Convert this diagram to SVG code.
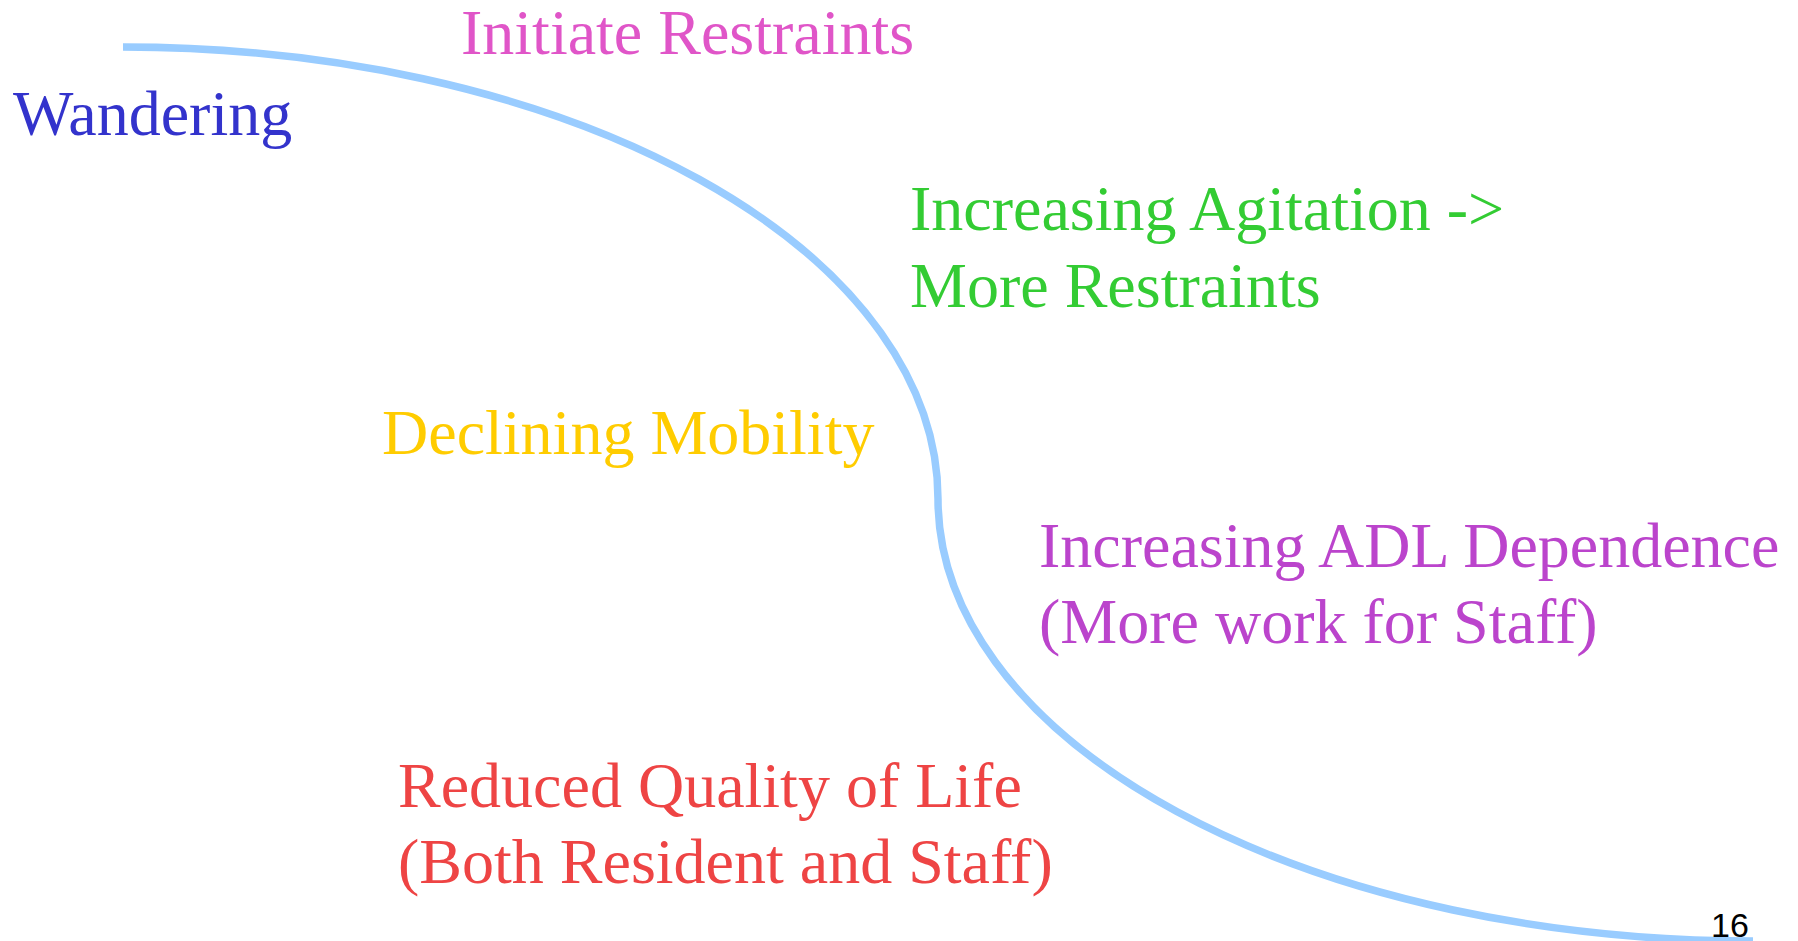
<svg xmlns="http://www.w3.org/2000/svg" width="1798" height="941" viewBox="0 0 1798 941">
  <style>
    .lbl { font-family: "Liberation Serif", "Times New Roman", serif; font-size: 64px; }
    .curve { fill: none; stroke: #99CCFF; stroke-width: 7.5; }
  </style>
  <rect width="1798" height="941" fill="#FFFFFF"/>
  <g id="connectors">
    <!-- S-shaped trend line: two quarter ellipses meeting at the vertical tangent -->
    <path class="curve" d="M 123 47 A 815 452 0 0 1 938 499 A 815 442 0 0 0 1753 941"/>
  </g>
  <g id="wandering">
    <text class="lbl" x="13" y="135" fill="#3333CC">Wandering</text>
  </g>
  <g id="initiate-restraints">
    <text class="lbl" x="461" y="54" fill="#E055C8">Initiate Restraints</text>
  </g>
  <g id="increasing-agitation">
    <text class="lbl" x="910" y="230" fill="#33CC33">Increasing Agitation -&gt;</text>
    <text class="lbl" x="910" y="307" fill="#33CC33">More Restraints</text>
  </g>
  <g id="declining-mobility">
    <text class="lbl" x="382" y="454" fill="#FFCC00">Declining Mobility</text>
  </g>
  <g id="adl-dependence">
    <text class="lbl" x="1039" y="567" fill="#BB44CC">Increasing ADL Dependence</text>
    <text class="lbl" x="1039" y="643" fill="#BB44CC">(More work for Staff)</text>
  </g>
  <g id="quality-of-life">
    <text class="lbl" x="398" y="807" fill="#EE4444">Reduced Quality of Life</text>
    <text class="lbl" x="398" y="883" fill="#EE4444">(Both Resident and Staff)</text>
  </g>
  <g id="page-number">
    <text x="1711" y="937" font-family="'Liberation Sans', Arial, sans-serif" font-size="34" fill="#000000">16</text>
  </g>
</svg>
